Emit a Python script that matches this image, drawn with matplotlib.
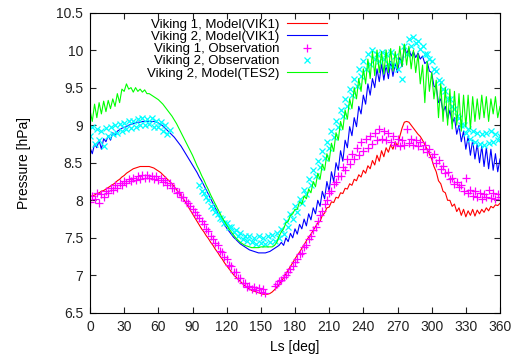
import numpy as np
import matplotlib
matplotlib.use('Agg')
import matplotlib.pyplot as plt

# solar longitude grid, every 2 deg
ls = np.arange(0, 361, 2)
nan = np.nan

v1_vik1 = [
    8.05, 8.06, 8.07, 8.09, 8.10, 8.12, 8.13, 8.15, 8.17, 8.19,
    8.21, 8.23, 8.26, 8.28, 8.31, 8.33, 8.36, 8.38, 8.40, 8.42,
    8.43, 8.44, 8.45, 8.45, 8.45, 8.45, 8.45, 8.44, 8.43, 8.41,
    8.39, 8.37, 8.34, 8.31, 8.28, 8.25, 8.22, 8.18, 8.14, 8.10,
    8.06, 8.02, 7.97, 7.92, 7.87, 7.82, 7.77, 7.72, 7.67, 7.62,
    7.58, 7.53, 7.49, 7.44, 7.40, 7.35, 7.31, 7.26, 7.22, 7.17,
    7.13, 7.09, 7.05, 7.01, 6.98, 6.95, 6.92, 6.89, 6.86, 6.84,
    6.82, 6.80, 6.79, 6.78, 6.77, 6.76, 6.75, 6.75, 6.75, 6.76,
    6.78, 6.81, 6.84, 6.88, 6.92, 6.97, 7.02, 7.07, 7.12, 7.17,
    7.22, 7.27, 7.31, 7.36, 7.41, 7.46, 7.51, 7.55, 7.60, 7.65,
    7.70, 7.72, 7.80, 7.83, 7.90, 7.91, 7.98, 7.97, 8.04, 8.03,
    8.10, 8.09, 8.16, 8.15, 8.22, 8.20, 8.28, 8.26, 8.34, 8.31,
    8.40, 8.36, 8.46, 8.42, 8.53, 8.47, 8.60, 8.52, 8.66, 8.58,
    8.70, 8.64, 8.74, 8.68, 8.78, 8.72, 8.85, 8.96, 9.04, 9.05,
    9.04, 9.00, 8.96, 8.92, 8.88, 8.85, 8.80, 8.74, 8.68, 8.62,
    8.55, 8.45, 8.38, 8.26, 8.22, 8.12, 8.10, 8.00, 8.00, 7.92,
    7.95, 7.85, 7.90, 7.80, 7.88, 7.78, 7.86, 7.80, 7.88, 7.79,
    7.87, 7.82, 7.88, 7.84, 7.90, 7.86, 7.92, 7.90, 7.94, 7.93,
    7.96]

v2_vik1 = [
    8.70, 8.62, 8.75, 8.70, 8.80, 8.68, 8.82, 8.78, 8.86, 8.80,
    8.90, 8.86, 8.92, 8.94, 8.96, 8.97, 8.98, 9.00, 9.01, 9.02,
    9.03, 9.04, 9.04, 9.05, 9.05, 9.05, 9.05, 9.05, 9.05, 9.04,
    9.03, 9.01, 8.99, 8.96, 8.93, 8.90, 8.87, 8.84, 8.80, 8.76,
    8.72, 8.67, 8.62, 8.57, 8.52, 8.47, 8.42, 8.37, 8.31, 8.26,
    8.20, 8.14, 8.08, 8.02, 7.96, 7.90, 7.84, 7.78, 7.73, 7.68,
    7.63, 7.59, 7.55, 7.51, 7.48, 7.45, 7.42, 7.40, 7.38, 7.36,
    7.34, 7.33, 7.32, 7.31, 7.30, 7.30, 7.30, 7.30, 7.31, 7.32,
    7.34, 7.36, 7.38, 7.40, 7.44, 7.40, 7.50, 7.45, 7.56, 7.50,
    7.62, 7.55, 7.68, 7.62, 7.75, 7.66, 7.82, 7.74, 7.90, 7.82,
    8.00, 7.92, 8.12, 8.02, 8.25, 8.12, 8.38, 8.25, 8.50, 8.40,
    8.66, 8.52, 8.80, 8.70, 8.98, 8.86, 9.10, 8.98, 9.25, 9.15,
    9.40, 9.28, 9.55, 9.40, 9.62, 9.50, 9.75, 9.58, 9.82, 9.60,
    9.80, 9.62, 9.85, 9.65, 9.82, 9.70, 9.90, 9.78, 10.05, 9.95,
    10.02, 9.92, 9.98, 9.90, 9.96, 9.88, 9.92, 9.82, 9.85, 9.72,
    9.70, 9.52, 9.50, 9.30, 9.35, 9.18, 9.25, 9.08, 9.20, 9.02,
    9.10, 8.88, 9.00, 8.78, 8.92, 8.68, 8.85, 8.60, 8.80, 8.55,
    8.75, 8.50, 8.72, 8.45, 8.70, 8.42, 8.68, 8.40, 8.62, 8.38,
    8.55]

v2_tes2 = [
    9.20, 9.05, 9.28, 9.10, 9.30, 9.15, 9.32, 9.18, 9.33, 9.22,
    9.35, 9.25, 9.42, 9.30, 9.48, 9.45, 9.55, 9.48, 9.50, 9.44,
    9.50, 9.45, 9.48, 9.44, 9.47, 9.42, 9.42, 9.40, 9.38, 9.36,
    9.34, 9.31, 9.28, 9.24, 9.20, 9.16, 9.12, 9.07, 9.02, 8.96,
    8.90, 8.84, 8.78, 8.72, 8.66, 8.60, 8.53, 8.46, 8.40, 8.33,
    8.27, 8.20, 8.14, 8.07, 8.01, 7.95, 7.89, 7.83, 7.77, 7.72,
    7.67, 7.62, 7.58, 7.54, 7.50, 7.47, 7.44, 7.42, 7.40, 7.39,
    7.38, 7.37, 7.37, 7.37, 7.37, 7.38, 7.38, 7.38, 7.38, 7.38,
    7.38, 7.40, 7.44, 7.52, 7.58, 7.62, 7.70, 7.72, 7.80, 7.82,
    7.88, 7.88, 7.98, 7.95, 8.06, 8.02, 8.15, 8.10, 8.25, 8.18,
    8.36, 8.28, 8.48, 8.40, 8.62, 8.52, 8.76, 8.65, 8.90, 8.80,
    9.05, 8.94, 9.20, 9.08, 9.35, 9.22, 9.50, 9.35, 9.62, 9.45,
    9.75, 9.55, 9.88, 9.62, 9.98, 9.66, 10.00, 9.70, 9.98, 9.68,
    10.00, 9.70, 10.02, 9.72, 9.98, 9.75, 10.05, 9.78, 10.08, 9.80,
    10.05, 9.75, 10.00, 9.70, 9.95, 9.55, 9.80, 9.30, 9.85, 9.45,
    9.70, 9.35, 9.60, 9.10, 9.55, 9.05, 9.50, 9.00, 9.48, 8.95,
    9.45, 9.00, 9.42, 8.92, 9.40, 8.98, 9.40, 8.95, 9.38, 9.05,
    9.35, 9.08, 9.40, 9.10, 9.38, 9.05, 9.35, 9.15, 9.38, 9.10,
    9.25]

v1_obs = [
    7.98, 8.06, 8.02, 8.10, 7.97, 8.08, 8.05, 8.12, 8.10, 8.16,
    8.14, 8.20, 8.17, 8.23, 8.20, 8.26, 8.23, 8.28, 8.26, 8.30,
    8.27, 8.32, 8.29, 8.34, 8.30, 8.34, 8.30, 8.33, 8.29, 8.32,
    8.27, 8.30, 8.25, 8.27, 8.21, 8.23, 8.16, 8.17, 8.10, 8.11,
    8.05, 8.04, 7.99, 7.97, 7.92, 7.89, 7.85, 7.81, 7.76, 7.72,
    7.68, 7.62, 7.59, 7.52, 7.49, 7.43, 7.40, 7.33, 7.31, 7.24,
    7.22, 7.14, 7.12, 7.05, 7.04, 6.97, 6.96, 6.90, 6.90, 6.85,
    6.86, 6.82, 6.84, 6.80, 6.83, 6.78, 6.82, 6.77, nan, nan,
    nan, 6.86, 6.88, 6.92, 6.94, 6.98, 7.01, 7.05, 7.08, 7.13,
    7.18, 7.22, 7.28, 7.30, 7.38, 7.40, 7.48, 7.52, 7.60, 7.65,
    7.72, 7.80, 7.86, 7.95, 8.00, 8.10, 8.12, 8.22, 8.24, 8.33,
    8.32, 8.45, 8.40, 8.55, 8.48, 8.62, 8.55, 8.70, 8.60, 8.78,
    8.65, 8.82, 8.70, 8.86, 8.75, 8.90, 8.80, 8.95, 8.82, 8.92,
    8.80, 8.90, 8.78, 8.86, 8.74, 8.82, 8.72, 8.80, 8.74, 8.95,
    8.76, 8.82, 8.74, 8.80, 8.72, 8.78, 8.68, 8.74, 8.64, 8.68,
    8.58, 8.62, 8.50, 8.54, 8.42, 8.46, 8.36, 8.38, 8.28, 8.30,
    8.22, 8.25, 8.18, 8.20, 8.12, 8.30, 8.10, 8.14, 8.06, 8.12,
    8.04, 8.10, 8.02, 8.08, 8.05, 8.14, 8.03, 8.10, 8.02, 8.08,
    8.05]

v2_obs = [
    8.85, 8.98, 8.75, 8.95, 8.80, 8.92, 8.72, 8.96, 8.85, 8.98,
    8.88, 9.00, 8.90, 9.02, 8.92, 9.03, 8.95, 9.05, 8.96, 9.06,
    8.98, 9.08, 9.00, 9.10, 9.00, 9.08, 9.02, 9.10, 8.98, 9.05,
    8.98, 9.04, 8.92, 9.00, 8.88, 8.94, nan, nan, nan, nan,
    nan, nan, nan, nan, nan, nan, nan, nan, 8.20, 8.12,
    8.10, 8.04, 8.00, 7.93, 7.90, 7.84, 7.82, 7.76, 7.75, 7.70,
    7.70, 7.64, 7.64, 7.58, 7.60, 7.53, 7.56, 7.49, 7.53, 7.46,
    7.52, 7.44, 7.50, 7.42, 7.52, 7.43, 7.50, 7.42, 7.52, 7.44,
    7.54, 7.46, 7.56, 7.50, 7.62, 7.55, 7.72, 7.65, 7.82, 7.75,
    7.92, 7.85, 8.02, 7.96, 8.14, 8.08, 8.28, 8.20, 8.40, 8.32,
    8.52, 8.44, 8.65, 8.56, 8.78, 8.70, 8.92, 8.84, 9.05, 8.98,
    9.20, 9.12, 9.35, 9.25, 9.48, 9.40, 9.62, 9.52, 9.75, 9.65,
    9.85, 9.75, 9.95, 9.82, 10.00, 9.88, 9.95, 9.85, 9.98, 9.88,
    9.95, 9.82, 9.98, 9.80, 9.92, 9.75, 9.85, 9.62, 10.05, 9.95,
    10.15, 10.05, 10.18, 10.10, 10.12, 10.02, 10.05, 9.95, 9.95, 9.88,
    9.85, 9.75, 9.72, 9.60, 9.58, 9.48, 9.45, 9.35, 9.35, 9.25,
    9.22, 9.12, 9.10, 9.00, 9.00, 8.90, 8.95, 8.82, 8.92, 8.78,
    8.90, 8.75, 8.88, 8.74, 8.90, 8.76, 8.92, 8.78, 8.88, 8.80,
    8.85]

xticks = np.arange(0, 361, 30)
yticks = np.arange(6.5, 10.51, 0.5)
ytick_labels = ['6.5', '7', '7.5', '8', '8.5', '9', '9.5', '10', '10.5']

plt.rcParams['font.family'] = ['Liberation Sans', 'DejaVu Sans']
plt.rcParams['font.size'] = 10

fig = plt.figure(figsize=(5.17, 3.6), dpi=100)
ax = fig.add_axes([90 / 517, 47 / 360, 410 / 517, 300.5 / 360])

ax.plot(ls, v1_vik1, color='#ff0000', lw=0.8, label='Viking 1, Model(VIK1)')
ax.plot(ls, v2_vik1, color='#0000ff', lw=0.8, label='Viking 2, Model(VIK1)')
ax.plot(ls, v1_obs, ls='none', marker='+', ms=6, mew=0.9, color='#ff00ff',
        label='Viking 1, Observation')
ax.plot(ls, v2_obs, ls='none', marker='x', ms=4.5, mew=0.9, color='#00ffff',
        label='Viking 2, Observation')
ax.plot(ls, v2_tes2, color='#00ff00', lw=0.8, label='Viking 2, Model(TES2)')

ax.set_xlim(0, 360)
ax.set_ylim(6.5, 10.5)
ax.set_xticks(xticks)
ax.set_yticks(yticks)
ax.set_yticklabels(ytick_labels)
ax.tick_params(direction='in', top=True, right=True, length=4, width=0.8,
               labelsize=10, colors='#222222', pad=5)
for s in ax.spines.values():
    s.set_linewidth(0.8)

ax.set_xlabel('Ls [deg]', fontsize=10, labelpad=4)
ax.set_ylabel('Pressure [hPa]', fontsize=10, labelpad=18)

leg = ax.legend(loc='upper right', bbox_to_anchor=(0.578, 0.98), frameon=False,
                markerfirst=False, handlelength=3.0, handletextpad=0.6,
                labelspacing=0.0, borderpad=0, borderaxespad=0, fontsize=9.5)

plt.savefig('out.png', dpi=100)
plt.close()
